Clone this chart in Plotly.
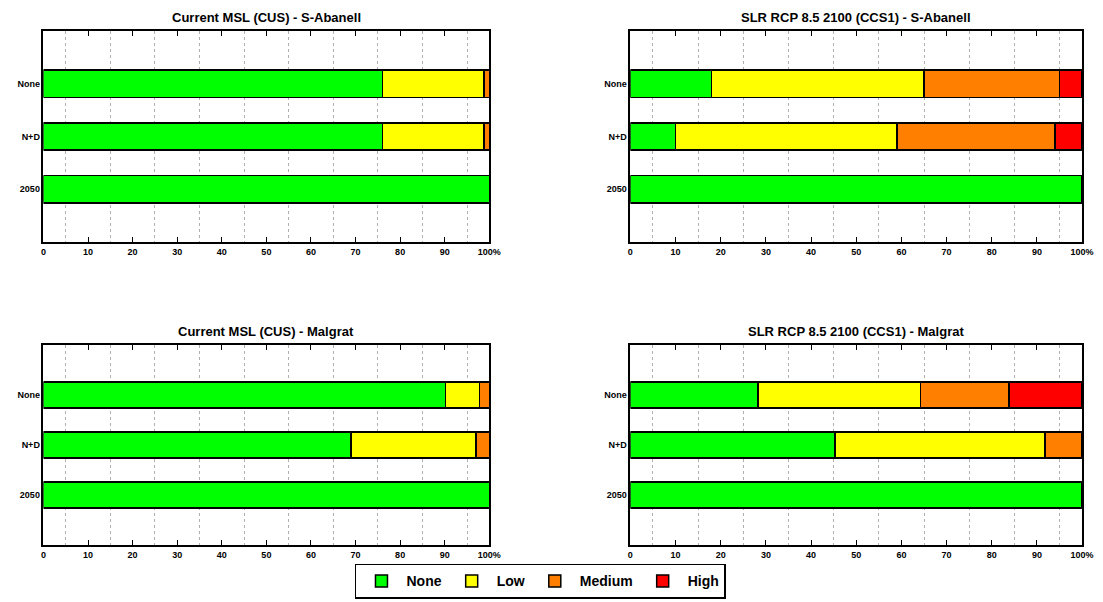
import plotly.graph_objects as go

# ---- data ----
categories = ["None", "N+D", "2050"]
levels = ["None", "Low", "Medium", "High"]
colors = ["#00ff00", "#ffff00", "#ff8000", "#ff0000"]

titles = [
    "Current MSL (CUS) - S-Abanell",
    "SLR RCP 8.5 2100 (CCS1) - S-Abanell",
    "Current MSL (CUS) - Malgrat",
    "SLR RCP 8.5 2100 (CCS1) - Malgrat",
]

# values per panel: [None, Low, Medium, High] for each category (None, N+D, 2050)
cus_sabanell_none = [76.0, 22.8, 1.2, 0.0]
cus_sabanell_nd = [76.0, 22.8, 1.2, 0.0]
cus_sabanell_2050 = [100.0, 0.0, 0.0, 0.0]

slr_sabanell_none = [18.0, 47.0, 30.0, 5.0]
slr_sabanell_nd = [10.0, 49.0, 35.0, 6.0]
slr_sabanell_2050 = [100.0, 0.0, 0.0, 0.0]

cus_malgrat_none = [90.2, 7.6, 2.2, 0.0]
cus_malgrat_nd = [69.0, 28.0, 3.0, 0.0]
cus_malgrat_2050 = [100.0, 0.0, 0.0, 0.0]

slr_malgrat_none = [28.2, 36.0, 19.6, 16.2]
slr_malgrat_nd = [45.3, 46.5, 8.2, 0.0]
slr_malgrat_2050 = [100.0, 0.0, 0.0, 0.0]

panels = [
    [cus_sabanell_none, cus_sabanell_nd, cus_sabanell_2050],
    [slr_sabanell_none, slr_sabanell_nd, slr_sabanell_2050],
    [cus_malgrat_none, cus_malgrat_nd, cus_malgrat_2050],
    [slr_malgrat_none, slr_malgrat_nd, slr_malgrat_2050],
]

x_tickvals = [0, 10, 20, 30, 40, 50, 60, 70, 80, 90, 100]
x_ticktext = ["0", "10", "20", "30", "40", "50", "60", "70", "80", "90", "100%"]

# ---- layout geometry ----
W, H = 1103, 600
x_domains = [[41 / W, 493 / W], [636 / W, 1094 / W]]
y_domains = [[1 - 242 / H, 1 - 31 / H], [1 - 545 / H, 1 - 345 / H]]

fig = go.Figure()
layout = dict(
    width=W, height=H,
    margin=dict(l=0, r=0, t=0, b=0),
    paper_bgcolor="white", plot_bgcolor="white",
    barmode="stack",
    bargap=0.48,
    font=dict(family="Liberation Sans, Arial, sans-serif", color="black"),
    showlegend=True,
    legend=dict(
        orientation="h", x=0.494, xanchor="center", y=0.002, yanchor="bottom",
        bordercolor="black", borderwidth=1.5, bgcolor="white",
        font=dict(size=14, family="Liberation Sans, Arial, sans-serif", weight="bold"),
        traceorder="normal", itemwidth=40,
    ),
    annotations=[],
)

for p in range(4):
    row, col = divmod(p, 2)
    ax = "" if p == 0 else str(p + 1)
    xa, ya = "x" + ax, "y" + ax
    for li, lvl in enumerate(levels):
        vals = [panels[p][ci][li] for ci in range(3)]
        vals = [v if v > 0 else None for v in vals]
        fig.add_trace(go.Bar(
            x=vals, y=categories, orientation="h", name=lvl,
            marker=dict(color=colors[li], line=dict(color="black", width=1.5)),
            xaxis=xa, yaxis=ya, legendgroup=lvl, showlegend=(p == 1),
            hoverinfo="x+y",
        ))
    layout["xaxis" + ax] = dict(
        domain=x_domains[col], anchor=ya, range=[0, 100],
        tickvals=x_tickvals, ticktext=x_ticktext,
        ticks="inside", ticklen=5, tickcolor="black", tickwidth=1,
        showline=True, linecolor="black", linewidth=1.5, mirror="ticks",
        showgrid=False, zeroline=False,
        tickfont=dict(size=9, weight="bold"),
        minor=dict(tick0=5, dtick=10, showgrid=True, gridcolor="#b0b0b0",
                   griddash="dot", gridwidth=1, ticks=""),
    )
    layout["yaxis" + ax] = dict(
        domain=y_domains[row], anchor=xa, type="category",
        categoryorder="array", categoryarray=categories,
        range=[3, -1],
        showline=True, linecolor="black", linewidth=1.5, mirror=True,
        ticks="", showgrid=False, zeroline=False,
        tickfont=dict(size=9, weight="bold"),
    )
    xc = (x_domains[col][0] + x_domains[col][1]) / 2
    layout["annotations"].append(dict(
        text=titles[p], xref="paper", yref="paper", x=xc, y=y_domains[row][1],
        xanchor="center", yanchor="bottom", yshift=4, showarrow=False,
        font=dict(size=13, weight="bold"),
    ))

fig.update_layout(**layout)
fig.write_html("out.html")
